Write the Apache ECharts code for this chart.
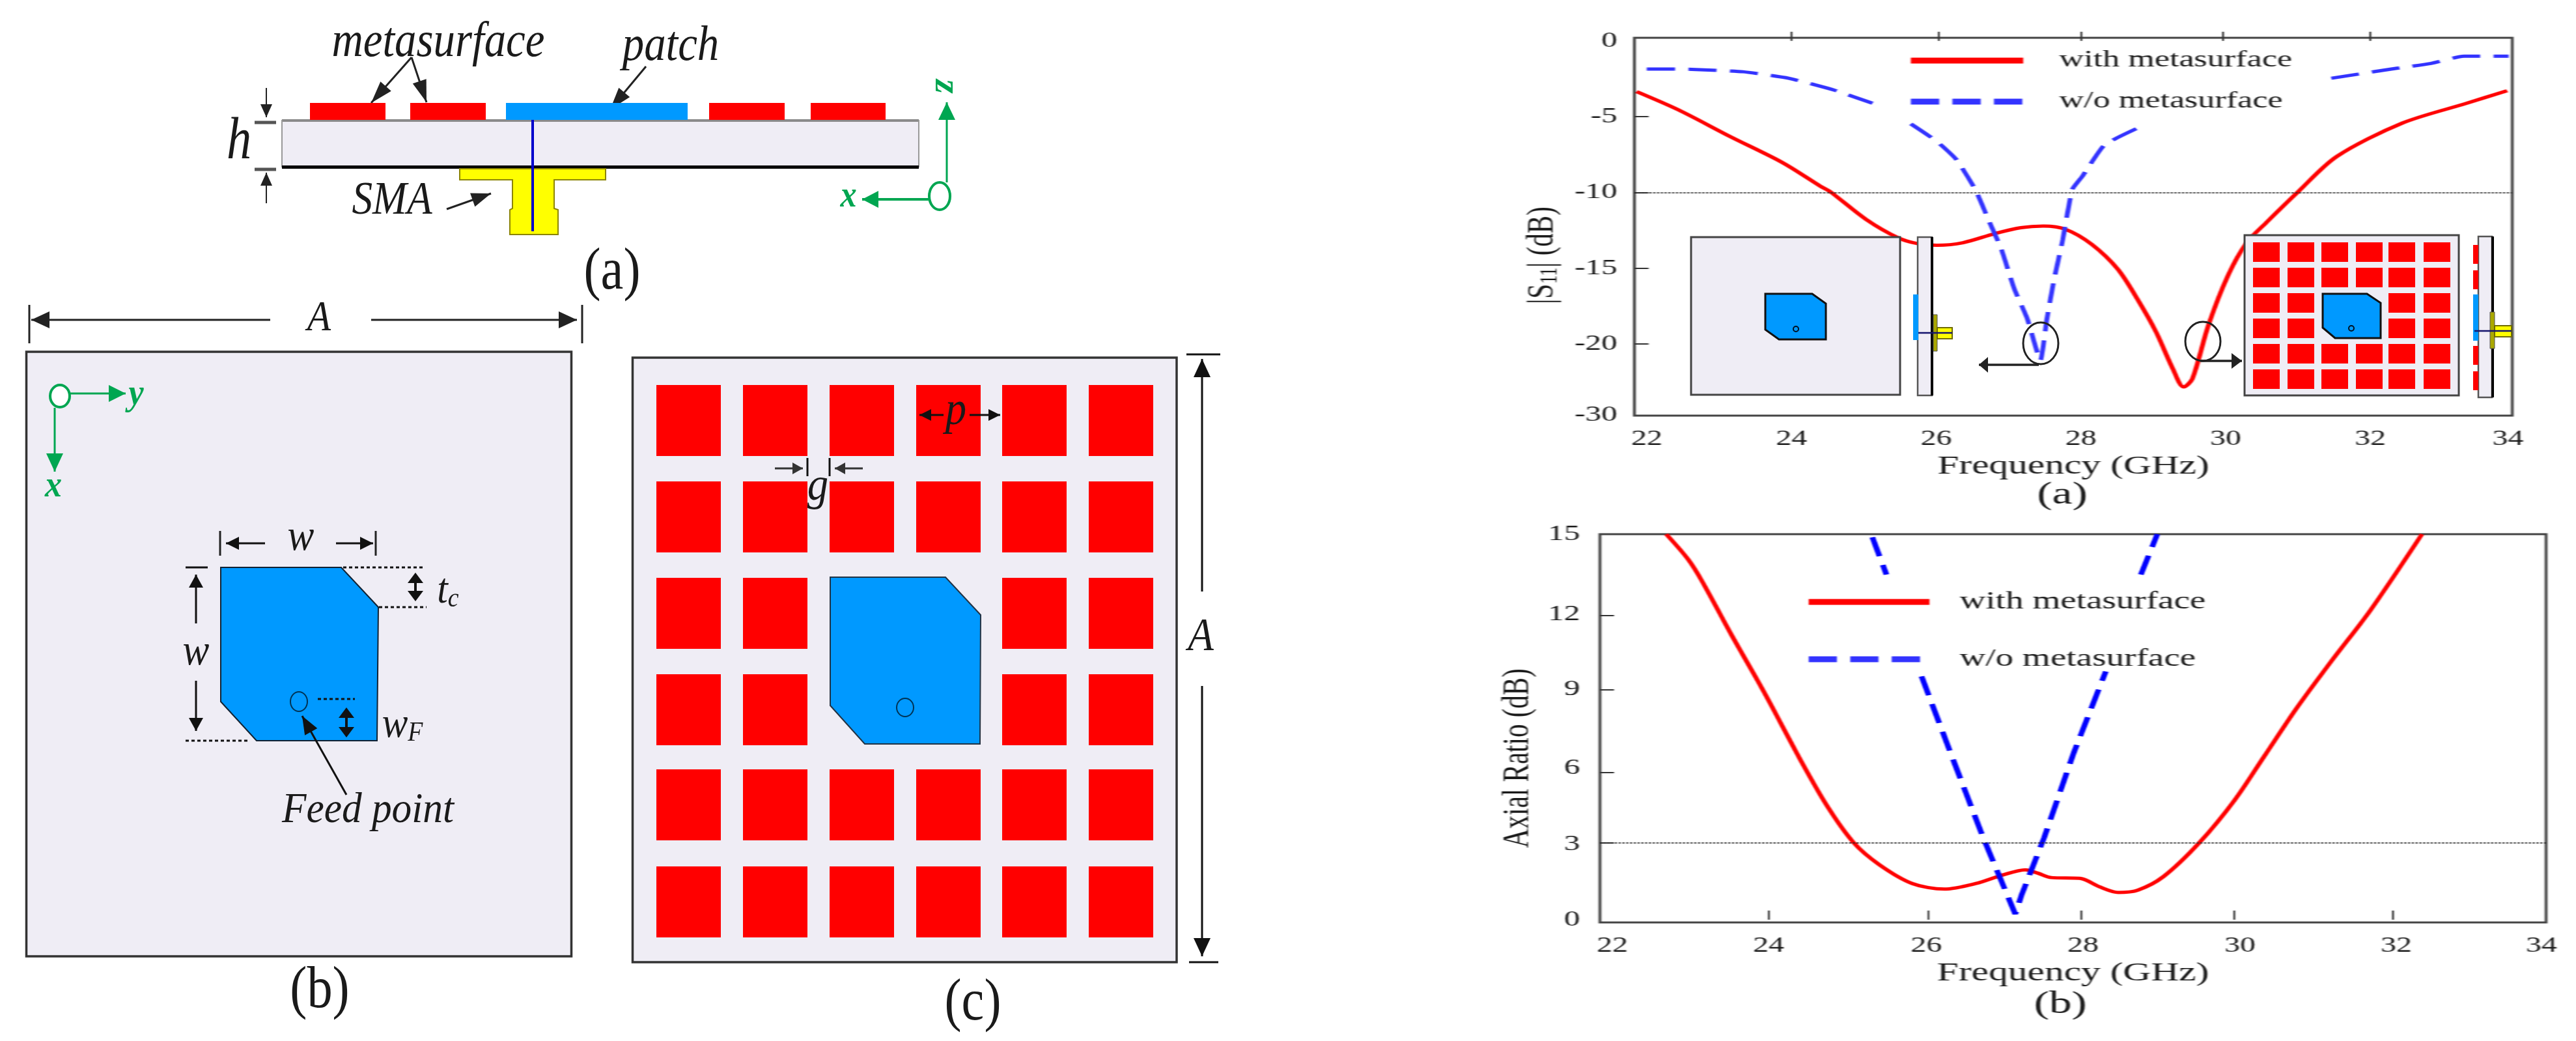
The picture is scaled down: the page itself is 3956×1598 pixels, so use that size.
<!DOCTYPE html>
<html><head><meta charset="utf-8">
<style>
html,body{margin:0;padding:0;background:#fff;width:3956px;height:1598px;overflow:hidden}
#plots{position:absolute;left:2280px;top:0;width:1156px;height:1598px;transform-origin:0 0;transform:scaleX(1.45);filter:blur(0.7px)}
#art{position:absolute;left:0;top:0;width:3956px;height:1598px;filter:blur(0.7px)}
</style>
<script src="https://cdn.jsdelivr.net/npm/echarts@6/dist/echarts.min.js"></script>
</head><body>
<div id="plots"></div><div id="art"></div>
<script>
// ---------- data ----------
const withName = 'with metasurface';
const withoutName = 'w/o metasurface';
// (a) |S11|
const s11WithFreq = [21.86,22.44,23.15,23.87,24.40,24.54,25.03,25.47,25.74,26.01,26.37,26.81,27.17,27.48,27.79,28.15,28.51,28.78,29.04,29.27,29.42,29.54,29.76,30.03,30.29,30.56,31.01,31.54,32.44,33.33,33.89];
const s11With = [-3.35,-4.56,-6.31,-8.02,-9.59,-9.97,-11.78,-12.99,-13.38,-13.49,-13.32,-12.72,-12.33,-12.22,-12.44,-13.43,-15.07,-17.04,-19.23,-21.64,-22.84,-22.3,-18.79,-15.51,-13.32,-12.0,-9.92,-7.62,-5.43,-4.12,-3.29];
const s11WithoutFreq = [22.0,22.62,23.33,23.96,24.58,25.12,null,25.65,26.01,26.28,26.54,26.72,26.90,27.08,27.26,27.44,27.53,27.63,27.75,27.88,28.02,28.33,28.91,null,31.46,32.35,32.84,33.29,33.91];
const s11Without = [-1.86,-1.88,-2.04,-2.47,-3.24,-4.12,null,-5.48,-6.64,-7.84,-9.81,-11.78,-13.75,-16.38,-18.35,-21.09,-18.35,-15.72,-13.10,-9.81,-8.94,-6.85,-5.48,null,-2.47,-1.82,-1.49,-1.01,-1.01];
const s11Threshold = -10;
// (b) axial ratio
const arWithFreq = [22.69,22.97,23.15,23.52,23.94,24.43,24.76,25.09,25.42,25.84,26.25,26.66,27.0,27.29,27.45,27.62,27.99,28.24,28.48,28.73,29.06,29.52,29.97,30.35,30.76,31.21,31.71,32.37];
const arWith = [15.0,14.02,13.16,11.11,8.87,6.10,4.38,3.0,2.14,1.41,1.19,1.41,1.74,1.94,1.81,1.64,1.61,1.28,1.06,1.15,1.68,3.0,4.65,6.36,8.21,10.06,12.04,15.0];
const arWithoutFreq = [25.33,25.51,null,25.96,26.33,26.75,27.16,27.24,27.53,27.91,28.32,null,28.77,28.98];
const arWithout = [14.88,13.43,null,9.47,6.5,3.19,0.22,0.95,3.19,6.5,9.66,null,13.43,15.0];
const arThreshold = 3;
// axis ticks and tick labels (the printed labels sit a little off the ideal grid, as in the picture)
const s11XTicks = [24,26.03,28,29.96,32];
const s11XLabels = [22,24,26,28,30,32,33.9];
const s11YTicks = [-5,-10,-15,-20];
const s11YLabels = [0,-5,-10,-15,-20,-24.7];
const arXTicks = [24,26.04,28.01,29.97,32];
const arXLabels = [22,24,26.02,28.03,30.04,32.04,33.9];
const arYTicks = [3,5.73,8.96,11.83];
const arYLabels = [0,2.93,5.9,8.96,11.88,15];

const zip = (a,b)=>a.map((v,i)=>[v,b[i]]);

// ---------- plots (image is horizontally stretched, so this layer is too) ----------
const K = 1.45, X0 = 2280, X = px => (px-X0)/K;
const SERIF = '"Liberation Serif"';
const INK = '#1a1a1a';
const dash = [30,14];
function xAxis(grid,min,max,ticks,labels,gap){
  return {type:'value',gridIndex:grid,min,max,
    name:'Frequency (GHz)',nameLocation:'middle',nameGap:gap,
    nameTextStyle:{fontFamily:SERIF,fontSize:41,color:INK},
    axisLine:{show:false},splitLine:{show:false},
    axisTick:{show:true,inside:true,length:14,customValues:ticks,lineStyle:{color:'#333',width:2}},
    axisLabel:{show:true,customValues:labels,margin:20,fontFamily:SERIF,fontSize:33,color:INK,formatter:v=>String(Math.round(v))}};
}
function yAxis(grid,min,max,ticks,labels,name,gap,pad,fmt,margin){
  return {type:'value',gridIndex:grid,min,max,
    name,nameLocation:'middle',nameGap:gap,
    nameTextStyle:{fontFamily:SERIF,fontSize:41,color:INK,padding:[0,pad,0,0],
      rich:{s:{fontFamily:SERIF,fontSize:26,color:INK,verticalAlign:'bottom',padding:[16,0,0,0]}}},
    axisLine:{show:false},splitLine:{show:false},
    axisTick:{show:true,inside:true,length:15,customValues:ticks,lineStyle:{color:'#333',width:2}},
    axisLabel:{show:true,customValues:labels,margin,fontFamily:SERIF,fontSize:34,color:INK,formatter:fmt}};
}
function lineSeries(name,grid,data,color,extra){
  return Object.assign({type:'line',name,xAxisIndex:grid,yAxisIndex:grid,data,
    showSymbol:false,symbol:'none',smooth:0.3,connectNulls:false,
    lineStyle:{color,width:5},itemStyle:{color},animation:false},extra||{});
}
function threshold(v){
  return {silent:true,symbol:'none',animation:false,label:{show:false},
    lineStyle:{color:'#222',type:'dotted',width:2},data:[{yAxis:v}]};
}
function legendOf(left,top,width,pad,gap,size){
  return {show:true,orient:'vertical',left,top,padding:0,itemWidth:width,itemHeight:40,itemGap:gap,
    data:[withName,withoutName],selectedMode:false,
    lineStyle:{width:9},itemStyle:{opacity:0},
    textStyle:{fontFamily:SERIF,fontSize:size,color:INK,padding:[0,0,0,pad]}};
}
const fmtS11 = v => v < -24 ? '-30' : String(Math.round(v));
const fmtAR = v => String(Math.round(v));
const plots = echarts.init(document.getElementById('plots'),null,{width:1156,height:1598});
plots.setOption({
  animation:false,backgroundColor:'#fff',
  grid:[
    {left:X(2510),width:(3858-2510)/K,top:58,height:580,show:true,borderColor:'#444',borderWidth:3,backgroundColor:'transparent'},
    {left:X(2457),width:(3910-2457)/K,top:820,height:596,show:true,borderColor:'#444',borderWidth:3,backgroundColor:'transparent'}
  ],
  xAxis:[xAxis(0,21.83,33.96,s11XTicks,s11XLabels,58),xAxis(1,21.84,33.96,arXTicks,arXLabels,58)],
  yAxis:[
    yAxis(0,-24.73,0.2,s11YTicks,s11YLabels,'|S{s|11}| (dB)',76,88,fmtS11,18),
    yAxis(1,-0.106,15,arYTicks,arYLabels,'Axial Ratio (dB)',62,92,fmtAR,21)
  ],
  legend:[legendOf(X(2928),75,119,33,27,36),legendOf(X(2771),905,128,27,50,38)],
  series:[
    lineSeries(withName,0,zip(s11WithFreq,s11With),'#ff0000',{markLine:threshold(s11Threshold)}),
    lineSeries(withoutName,0,zip(s11WithoutFreq,s11Without),'#3333ff',{smooth:0.15,lineStyle:{color:'#3333ff',width:5,type:dash}}),
    lineSeries(withName,1,zip(arWithFreq,arWith),'#ff0000',{markLine:threshold(arThreshold)}),
    lineSeries(withoutName,1,zip(arWithoutFreq,arWithout),'#0000ff',{smooth:0,lineStyle:{color:'#0000ff',width:6,type:dash}})
  ],
  graphic:[
    {type:'text',x:X(3167),y:760,style:{text:'(a)',font:'48px '+SERIF,fill:INK,align:'center',verticalAlign:'middle',textAlign:'center',textVerticalAlign:'middle'}},
    {type:'text',x:X(3164),y:1542,style:{text:'(b)',font:'48px '+SERIF,fill:INK,align:'center',verticalAlign:'middle',textAlign:'center',textVerticalAlign:'middle'}}
  ]
});

// ---------- diagrams drawn on top (antenna panels and insets) ----------
const SUB='#efedf5', RED='#ff0000', PATCH='#0099ff', GREEN='#00a651', YEL='#ffff00';
const els=[];
const rect=(x0,y0,x1,y1,fill,stroke,w)=>els.push({type:'rect',shape:{x:x0,y:y0,width:x1-x0,height:y1-y0},style:{fill:fill||'none',stroke:stroke||null,lineWidth:w||0}});
const poly=(pts,fill,stroke,w)=>els.push({type:'polygon',shape:{points:pts},style:{fill,stroke:stroke||null,lineWidth:w||0}});
const line=(x0,y0,x1,y1,c,w,d)=>els.push({type:'line',shape:{x1:x0,y1:y0,x2:x1,y2:y1},style:{stroke:c||'#222',lineWidth:w||3,lineDash:d||null}});
const oval=(cx,cy,rx,ry,fill,c,w)=>els.push({type:'ellipse',shape:{cx,cy,rx,ry},style:{fill:fill||'none',stroke:c,lineWidth:w||3}});
function head(x1,y1,x0,y0,len,hw,c){
  const dx=x1-x0,dy=y1-y0,d=Math.hypot(dx,dy),ux=dx/d,uy=dy/d;
  const bx=x1-ux*len,by=y1-uy*len;
  poly([[x1,y1],[bx-uy*hw,by+ux*hw],[bx+uy*hw,by-ux*hw]],c);
}
function arrow(x0,y0,x1,y1,c,w,len,hw){c=c||'#222';len=len||24;hw=hw||11;line(x0,y0,x1,y1,c,w||3);head(x1,y1,x0,y0,len,hw,c);}
function dbl(x,y0,y1){line(x,y0+8,x,y1-8,'#111',4);head(x,y0,x,y1,16,12,'#111');head(x,y1,x,y0,16,12,'#111');}
function txt(s,x,y,size,o){o=o||{};
  els.push({type:'text',x,y,scaleX:o.sx||0.9,rotation:o.rot||0,z:5,style:{text:s,
    font:(o.weight?o.weight+' ':'')+(o.italic?'italic ':'')+size+'px '+SERIF,fill:o.color||INK,
    align:'center',verticalAlign:'middle',textAlign:'center',textVerticalAlign:'middle',rich:o.rich}});
}
// panel (a) cross-section
const sideMetal=[[476,592],[630,746],[1089,1205],[1245,1360]];
txt('metasurface',673,66,76,{italic:true,sx:0.88});
txt('patch',1030,72,76,{italic:true,sx:0.88});
arrow(632,88,570,158,'#222',3,34,11);
arrow(632,88,655,157,'#222',3,34,11);
arrow(992,102,937,168,'#222',3,34,11);
rect(433,184,1411,257,SUB);
rect(433,183,1411,187,'#8a8a8a');
line(433,184,433,257,'#999',2);line(1411,184,1411,257,'#999',2);
rect(433,254,1411,259,'#000');
sideMetal.forEach(s=>rect(s[0],158,s[1],184,RED));
rect(777,158,1056,184,PATCH);
poly([[706,259],[930,259],[930,276],[851,276],[851,320],[857,322],[857,360],[783,360],[783,322],[787,320],[787,276],[706,276]],YEL,'#8c8500',2);
line(818,184,818,355,'#0000cc',4);
txt('SMA',602,309,72,{italic:true,sx:0.88});
arrow(686,321,754,297,'#222',3,30,11);
txt('h',367,219,90,{italic:true,sx:0.85});
arrow(409,135,409,180,'#222',2,20,9);
line(391,188,424,188,'#555',5);
line(391,260,424,260,'#555',5);
arrow(409,312,409,265,'#222',2,20,9);
arrow(1454,280,1454,157,GREEN,3,27,13);
oval(1443,301,16,21,'#fff',GREEN,4);
arrow(1428,306,1324,306,GREEN,4,25,13);
txt('z',1451,133,56,{italic:true,weight:'bold',color:GREEN,rot:-Math.PI/2,sx:1});
txt('x',1303,303,56,{italic:true,weight:'bold',color:GREEN,sx:0.9});
txt('(a)',940,419,90,{sx:0.87});
// panel (b) patch view
rect(40.5,540,877.5,1468,SUB,'#333',3.5);
line(45,468,45,527,'#222',3);line(894,468,894,527,'#222',3);
arrow(415,491,48,491,'#222',3,28,13);
arrow(570,491,886,491,'#222',3,28,13);
txt('A',490,490,66,{italic:true});
arrow(108,604,193,604,GREEN,3,26,13);
arrow(84,626,84,724,GREEN,3,28,13);
oval(92,608,15,17,'#fff',GREEN,4);
txt('y',209,606,58,{italic:true,weight:'bold',color:GREEN});
txt('x',82,747,58,{italic:true,weight:'bold',color:GREEN});
poly([[339,871],[524,871],[581,932],[579,1137],[394,1137],[339,1077]],PATCH,'#123',2);
oval(459,1077,13,15,'none','#035',2);
line(338,815,338,853,'#222',3);line(577,815,577,853,'#222',3);
arrow(407,834,347,834,'#111',3,20,10);
arrow(516,834,573,834,'#111',3,20,10);
txt('w',462,826,68,{italic:true});
line(285,871,319,871,'#111',3);
arrow(301,957,301,882,'#111',3,20,11);
txt('w',301,1002,68,{italic:true});
arrow(301,1045,301,1122,'#111',3,20,11);
line(285,1137,380,1137,'#111',3,[5,4]);
line(527,871,651,871,'#111',3,[5,4]);
line(582,932,655,932,'#111',3,[5,4]);
dbl(638,879,923);
txt('{t|t}{c|c}',688,908,66,{italic:true,sx:0.9,rich:{t:{font:'italic 66px '+SERIF,fill:INK},c:{font:'italic 42px '+SERIF,fill:INK,verticalAlign:'bottom',padding:[22,0,0,0]}}});
line(488,1073,545,1073,'#111',3,[5,4]);
dbl(532,1086,1132);
txt('{t|w}{c|F}',618,1114,66,{italic:true,sx:0.9,rich:{t:{font:'italic 66px '+SERIF,fill:INK},c:{font:'italic 42px '+SERIF,fill:INK,verticalAlign:'bottom',padding:[22,0,0,0]}}});
arrow(532,1220,464,1099,'#111',3,28,11);
txt('Feed point',565,1245,66,{italic:true,sx:0.93});
txt('(b)',491,1522,90,{sx:0.87});
// panel (c) metasurface view
const cellX=[1008,1141,1274,1407,1539,1672], cellY=[591,739,887,1035,1181,1330];
rect(971.5,549,1807,1477,SUB,'#333',3.5);
cellY.forEach((y,r)=>cellX.forEach((x,c)=>{ if(!((r===2||r===3)&&(c===2||c===3))) rect(x,y,x+99,y+109,RED); }));
poly([[1275,886],[1452,886],[1506,944],[1505,1142],[1328,1142],[1275,1083]],PATCH,'#234',2);
oval(1390,1086,13,14,'none','#035',2);
arrow(1449,637,1412,637,'#111',3,18,9);
arrow(1489,637,1536,637,'#111',3,18,9);
txt('p',1468,632,72,{italic:true});
line(1240,703,1240,731,'#111',3);line(1274,703,1274,731,'#111',3);
arrow(1190,719,1233,719,'#333',3,16,9);
arrow(1325,719,1282,719,'#333',3,16,9);
txt('g',1256,748,72,{italic:true});
line(1822,544,1874,544,'#111',3);line(1826,1477,1871,1477,'#111',3);
arrow(1846,908,1846,551,'#111',3,28,13);
arrow(1846,1053,1846,1468,'#111',3,28,13);
txt('A',1844,979,72,{italic:true});
txt('(c)',1494,1541,90,{sx:0.87});
// chart (a) insets
function miniPatch(x0,x1,x2,x3,y0,y1,y2,y3,fx,fy){
  poly([[x0,y0],[x2,y0],[x3,y1],[x3,y3],[x1,y3],[x0,y2]],PATCH,'#111',3);
  oval(fx,fy,4,4,'none','#012',2);
}
rect(2597,364,2918,606,SUB,'#444',3);
miniPatch(2711,2732,2783,2804,451,466,506,521,2758,505);
rect(2945,364,2967,607,SUB,'#555',2.5);
rect(2965,364,2969,607,'#000');
rect(2938,452,2946,522,PATCH);
rect(2969,483,2975,539,'#aaa800','#555',1);
rect(2975,503,2998,520,YEL,'#6e6a00',2);
line(2946,511,2998,511,'#15156e',2.5);
oval(3134,527,27,32,'none','#222',3);
arrow(3131,560,3039,560,'#222',3.5,14,12);
rect(3447,361,3776,607,SUB,'#444',3);
const miniX=[3460,3513,3565,3618,3668,3722], miniY=[372,411,450,489,528,567];
miniY.forEach((y,r)=>miniX.forEach((x,c)=>{ if(!((r===2||r===3)&&(c===2||c===3))) rect(x,y,x+41,y+30,RED); }));
miniPatch(3567,3586,3635,3656,451,465,503,519,3611,504);
rect(3806,363,3827,610,SUB,'#555',2.5);
rect(3826,363,3830,610,'#000');
[[376,405],[415,444],[531,560],[570,599]].forEach(s=>rect(3798,s[0],3806,s[1],RED));
rect(3798,452,3806,523,PATCH);
rect(3824,479,3831,535,'#aaa800','#555',1);
rect(3831,500,3857,517,YEL,'#6e6a00',2);
line(3800,508,3857,508,'#15156e',2.5);
oval(3383,524,27,30,'none','#222',3);
arrow(3379,554,3443,554,'#222',3.5,16,12);

const art = echarts.init(document.getElementById('art'),null,{width:3956,height:1598});
art.setOption({animation:false,backgroundColor:'transparent',graphic:{elements:els}});
</script>
</body></html>
